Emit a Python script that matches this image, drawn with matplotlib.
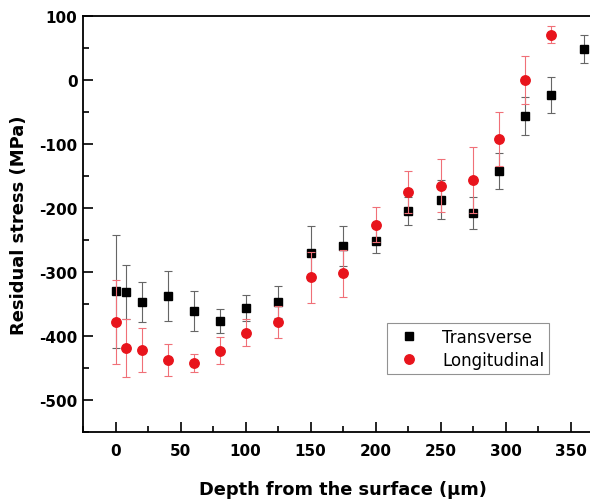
import numpy as np
import matplotlib.pyplot as plt
from matplotlib.ticker import MultipleLocator
from matplotlib.lines import Line2D

plt.rcParams['font.family'] = ['DejaVu Sans']
plt.rcParams['axes.unicode_minus'] = False

depth = [0, 8, 20, 40, 60, 80, 100, 125, 150, 175, 200, 225, 250, 275, 295, 315, 335, 360]
trans = [-330, -331, -347, -337, -361, -377, -356, -347, -270, -259, -251, -205, -187, -208, -142, -56, -23, 48]
trans_err = [88, 42, 31, 39, 31, 19, 20, 25, 42, 31, 20, 22, 30, 25, 28, 30, 28, 22]

depth_l = [0, 8, 20, 40, 60, 80, 100, 125, 150, 175, 200, 225, 250, 275, 295, 315, 335]
longi = [-378, -419, -422, -437, -442, -423, -395, -378, -308, -302, -226, -175, -165, -156, -92, 0, 71]
longi_err = [66, 45, 34, 25, 14, 21, 21, 25, 40, 37, 27, 33, 42, 52, 42, 37, 13]

fig = plt.figure(figsize=(5.9, 5.02), dpi=100)
ax = fig.add_axes([83/590, 69/502, 520/590, 416/502])

ax.errorbar(depth, trans, yerr=trans_err, fmt='s', color='black', ms=6,
            ecolor='#666666', elinewidth=0.8, capsize=3, capthick=0.8, zorder=3)
ax.errorbar(depth_l, longi, yerr=longi_err, fmt='o', color='#e8141c', ms=6.8,
            ecolor='#f07078', elinewidth=0.8, capsize=3, capthick=0.8, zorder=4)

ax.set_xlim(-25, 375)
ax.set_ylim(-550, 100)
ax.xaxis.set_major_locator(MultipleLocator(50))
ax.xaxis.set_minor_locator(MultipleLocator(25))
ax.yaxis.set_major_locator(MultipleLocator(100))
ax.yaxis.set_minor_locator(MultipleLocator(50))
ax.tick_params(which='both', direction='in', top=False, right=False, width=1.2)
ax.tick_params(which='major', length=7, labelsize=11)
ax.tick_params(axis='y', which='major', pad=4)
ax.tick_params(axis='x', which='major', pad=8)
ax.tick_params(which='minor', length=4)
for lab in ax.get_xticklabels() + ax.get_yticklabels():
    lab.set_fontweight('bold')
for s in ax.spines.values():
    s.set_linewidth(1.3)

ax.set_xlabel('Depth from the surface (\u03bcm)', fontsize=12.8, fontweight='bold', labelpad=16)
ax.set_ylabel('Residual stress (MPa)', fontsize=13, fontweight='bold', labelpad=8)

handles = [Line2D([], [], ls='none', marker='s', color='black', ms=6),
           Line2D([], [], ls='none', marker='o', color='#e8141c', ms=6.8)]
leg = ax.legend(handles, ['Transverse', 'Longitudinal'], loc='upper left',
                bbox_to_anchor=(304/520, 1 - 307/416), fontsize=12,
                frameon=True, fancybox=False, edgecolor='#777777', handletextpad=1.0,
                handlelength=2.0, borderpad=0.3, labelspacing=0.3, borderaxespad=0)
leg.get_frame().set_linewidth(0.8)

fig.savefig('out.png', dpi=100)
